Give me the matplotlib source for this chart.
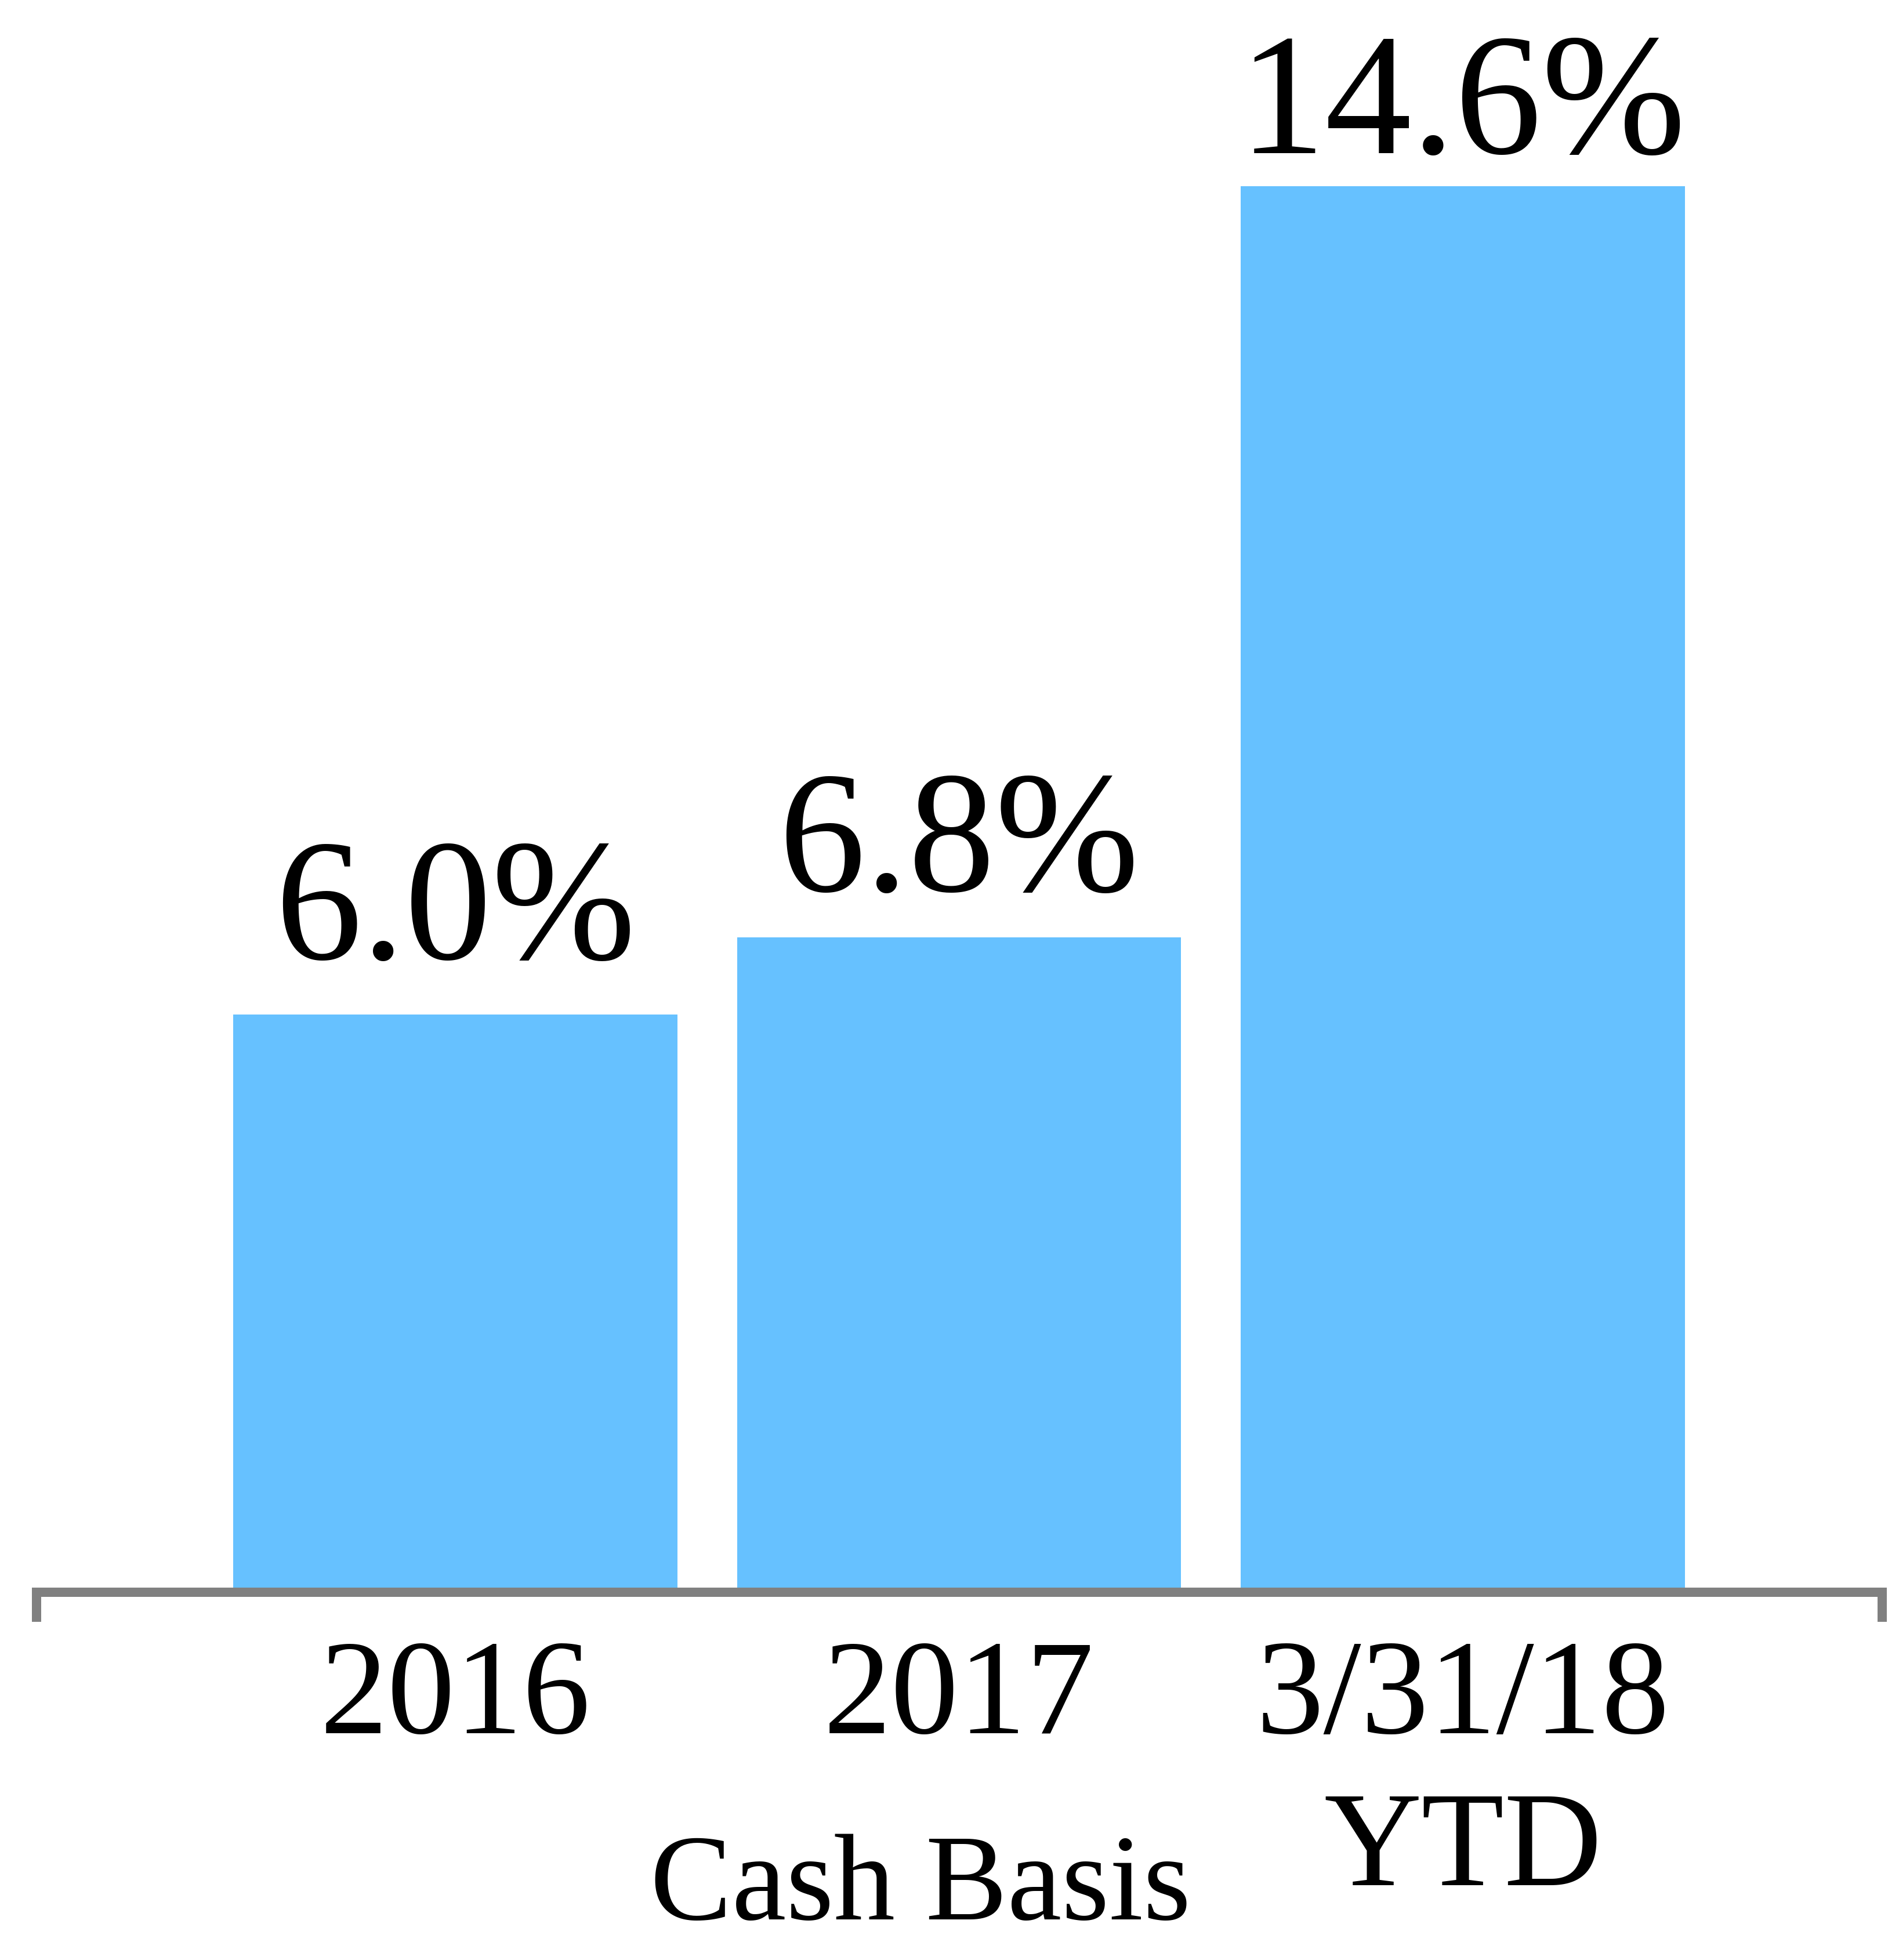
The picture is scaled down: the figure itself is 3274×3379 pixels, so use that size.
import matplotlib
matplotlib.use("Agg")
import matplotlib.pyplot as plt
import numpy as np

# data
categories = ["2016", "2017", "3/31/18\nYTD"]
values = [6.0, 6.8, 14.6]
value_labels = ["6.0%", "6.8%", "14.6%"]

plt.rcParams['font.family'] = ['Liberation Serif', 'DejaVu Serif']

fig = plt.figure(figsize=(32.74, 33.79), dpi=100)
ax = fig.add_axes([0.01924, 0.18763, 0.9719, 0.8106])

x = np.arange(len(categories))
bars = ax.bar(x, values, width=0.882, color='#66c1ff', zorder=1)
# labels sit a little higher over the short bars in the original
pads = [23, 12, -5]
for b, lab, p in zip(bars, value_labels, pads):
    ax.bar_label(ax.containers[0], labels=[lab if r is b else '' for r in bars],
                 padding=p, fontsize=215)

ax.set_xlim(-0.832, 2.833)
ax.set_ylim(0, 16.5)

for s in ['top', 'right', 'left']:
    ax.spines[s].set_visible(False)
ax.spines['bottom'].set_color('#808080')
ax.spines['bottom'].set_linewidth(11.5)
ax.spines['bottom'].set_zorder(3)
ax.set_yticks([])

ax.set_xticks(x, categories)
ax.tick_params(axis='x', which='major', length=0, pad=58, labelsize=168)
for lbl in ax.get_xticklabels():
    lbl.set_linespacing(1.31)
ax.set_xticks([-0.832, 2.833], minor=True)
ax.tick_params(axis='x', which='minor', length=36.7, width=11.5, color='#808080')

ax.set_xlabel("Cash Basis", fontsize=152)
ax.xaxis.set_label_coords(0.479, -0.1522)
ax.xaxis.label.set_va('top')

fig.savefig("out.png", dpi=100, facecolor='white')
